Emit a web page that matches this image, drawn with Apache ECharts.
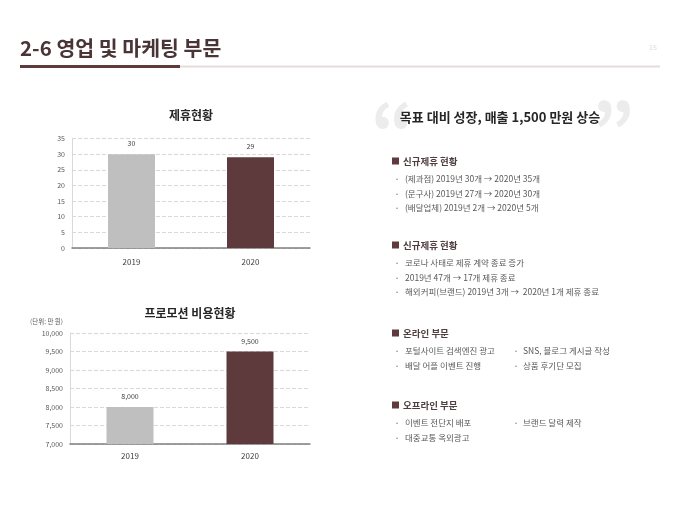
<!DOCTYPE html>
<html>
<head>
<meta charset="utf-8">
<script src="https://cdn.jsdelivr.net/npm/echarts@6/dist/echarts.min.js"></script>
<style>
html, body { margin: 0; padding: 0; background: #fff; }
#main { width: 680px; height: 510px; }
</style>
</head>
<body>
<div id="main"></div>
<script>
// 차트 데이터
var years = ['2019', '2020'];
var partnerCounts = [30, 29];
var promoCosts = [8000, 9500];
var barColors = ['#bfbfbf', '#5e3a3c'];

// 오른쪽 텍스트
var headline = '목표 대비 성장, 매출 1,500 만원 상승';
var sec1Title = '신규제휴 현황';
var sec1Items = ['(제과점) 2019년 30개 → 2020년 35개', '(문구사) 2019년 27개 → 2020년 30개', '(배달업체) 2019년 2개 → 2020년 5개'];
var sec2Title = '신규제휴 현황';
var sec2Items = ['코로나 사태로 제휴 계약 종료 증가', '2019년 47개 → 17개 제휴 종료', '해외커피(브랜드) 2019년 3개 →  2020년 1개 제휴 종료'];
var sec3Title = '온라인 부문';
var sec3Left = ['포털사이트 검색엔진 광고', '배달 어플 이벤트 진행'];
var sec3Right = ['SNS, 블로그 게시글 작성', '상품 후기단 모집'];
var sec4Title = '오프라인 부문';
var sec4Left = ['이벤트 전단지 배포', '대중교통 옥외광고'];
var sec4Right = ['브랜드 달력 제작'];

var FONT = '"Noto Sans CJK KR", "Noto Sans", sans-serif';

function coloredData(vals) {
  return vals.map(function (v, i) {
    return { value: v, itemStyle: { color: barColors[i] } };
  });
}

// 텍스트 그래픽 만들기
var graphics = [];
function txt(x, y, text, size, color, weight, align) {
  graphics.push({
    type: 'text', x: x, y: y, silent: true,
    style: {
      text: text, fill: color,
      font: (weight || 'normal') + ' ' + size + 'px ' + FONT,
      align: align || 'left', verticalAlign: 'middle'
    }
  });
}
function section(y, title, left, right) {
  graphics.push({ type: 'rect', shape: { x: 392, y: y - 3.5, width: 7, height: 7 }, style: { fill: '#5e3a3c' } });
  txt(403, y, title, 9.5, '#4f3f3f', 'bold');
  left.forEach(function (s, i) {
    var yy = y + 18 + i * 14.5;
    txt(396, yy, '•', 6, '#7f7f7f');
    txt(405, yy, s, 8.5, '#595959');
  });
  (right || []).forEach(function (s, i) {
    var yy = y + 18 + i * 14.5;
    txt(515, yy, '•', 6, '#7f7f7f');
    txt(523, yy, s, 8.5, '#595959');
  });
}

// 헤더
graphics.push({ type: 'line', shape: { x1: 20, y1: 66.5, x2: 660, y2: 66.5 }, style: { stroke: '#e6dcdc', lineWidth: 2 } });
graphics.push({ type: 'line', shape: { x1: 20, y1: 66.5, x2: 180, y2: 66.5 }, style: { stroke: '#5e3a3c', lineWidth: 3 } });
txt(20, 48, '2-6 영업 및 마케팅 부문', 20.5, '#4a3536', 'bold');
txt(653, 47, '15', 7, '#d9d9d9', 'normal', 'center');

// 인용 부호 + 헤드라인
txt(371, 131, '\u201C', 74, '#ececec', 'bold');
txt(592, 131, '\u201D', 74, '#ececec', 'bold');
txt(500, 117, headline, 13, '#262626', 'bold', 'center');

section(161, sec1Title, sec1Items);
section(245, sec2Title, sec2Items);
section(333, sec3Title, sec3Left, sec3Right);
section(405, sec4Title, sec4Left, sec4Right);

// 차트 제목
txt(191, 115, '제휴현황', 12, '#262626', 'bold', 'center');
txt(190, 313, '프로모션 비용현황', 12, '#262626', 'bold', 'center');
txt(30, 322, '(단위: 만 원)', 6.5, '#595959');

var chart = echarts.init(document.getElementById('main'));

var yAxisBase = {
  type: 'value',
  axisLine: { show: true, lineStyle: { color: '#d9d9d9' } },
  axisTick: { show: false },
  axisLabel: { fontSize: 7, color: '#595959', fontFamily: FONT, margin: 7 },
  splitLine: { lineStyle: { color: '#d9d9d9', type: 'dashed' } }
};
var xAxisBase = {
  type: 'category',
  data: years,
  axisLine: { lineStyle: { color: '#7f7f7f', width: 1.5 } },
  axisTick: { show: false },
  axisLabel: { fontSize: 8, color: '#404040', fontFamily: FONT }
};
var labelBase = { show: true, position: 'top', fontSize: 7, color: '#404040', fontFamily: FONT, distance: 7 };

var option = {
  animation: false,
  backgroundColor: '#fff',
  grid: [
    { left: 72, right: 370, top: 138.5, bottom: 262 },
    { left: 70, right: 370, top: 333, bottom: 66 }
  ],
  xAxis: [
    Object.assign({}, xAxisBase, { gridIndex: 0, axisLabel: Object.assign({}, xAxisBase.axisLabel, { margin: 10 }) }),
    Object.assign({}, xAxisBase, { gridIndex: 1, axisLabel: Object.assign({}, xAxisBase.axisLabel, { margin: 8 }) })
  ],
  yAxis: [
    Object.assign({}, yAxisBase, { gridIndex: 0, min: 0, max: 35, interval: 5 }),
    Object.assign({}, yAxisBase, {
      gridIndex: 1, min: 7000, max: 10000, interval: 500,
      axisLabel: Object.assign({}, yAxisBase.axisLabel, {
        formatter: function (v) { return v.toLocaleString('en-US'); }
      })
    })
  ],
  series: [
    {
      type: 'bar', xAxisIndex: 0, yAxisIndex: 0, barWidth: 47,
      data: coloredData(partnerCounts), label: labelBase
    },
    {
      type: 'bar', xAxisIndex: 1, yAxisIndex: 1, barWidth: 47,
      data: coloredData(promoCosts),
      label: Object.assign({}, labelBase, {
        formatter: function (p) { return p.value.toLocaleString('en-US'); }
      })
    }
  ],
  graphic: graphics
};

chart.setOption(option);
</script>
</body>
</html>
